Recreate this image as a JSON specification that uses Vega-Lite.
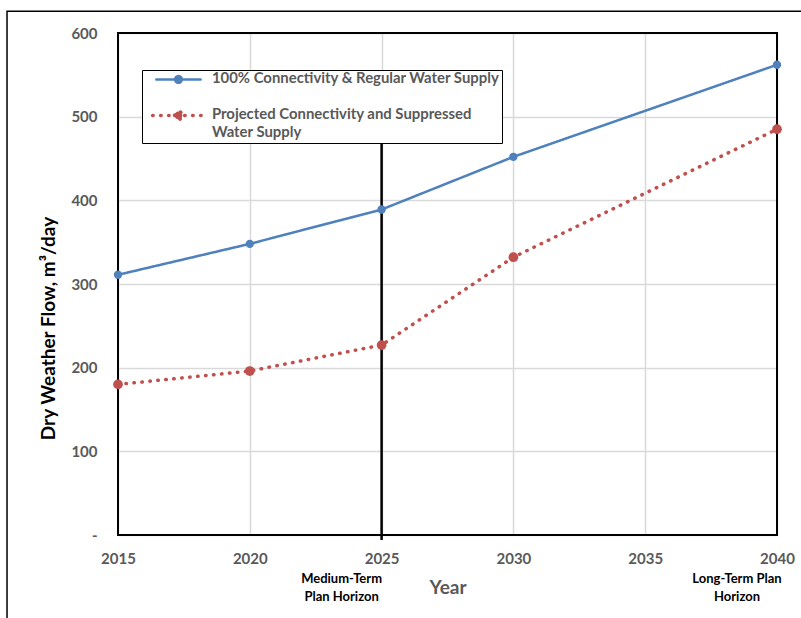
{
  "$schema": "https://vega.github.io/schema/vega-lite/v6.json",
  "width": 659,
  "height": 502,
  "autosize": "none",
  "padding": {"left": 118, "top": 33, "right": 24, "bottom": 83},
  "background": "white",
  "config": {"font": "Lato", "view": {"stroke": null}},
  "datasets": {
    "flow": [
      {"year": 2015, "series": "100% Connectivity & Regular Water Supply", "flow": 311},
      {"year": 2020, "series": "100% Connectivity & Regular Water Supply", "flow": 348},
      {"year": 2025, "series": "100% Connectivity & Regular Water Supply", "flow": 389},
      {"year": 2030, "series": "100% Connectivity & Regular Water Supply", "flow": 452},
      {"year": 2040, "series": "100% Connectivity & Regular Water Supply", "flow": 562},
      {"year": 2015, "series": "Projected Connectivity and Suppressed Water Supply", "flow": 180},
      {"year": 2020, "series": "Projected Connectivity and Suppressed Water Supply", "flow": 196},
      {"year": 2025, "series": "Projected Connectivity and Suppressed Water Supply", "flow": 227},
      {"year": 2030, "series": "Projected Connectivity and Suppressed Water Supply", "flow": 332},
      {"year": 2040, "series": "Projected Connectivity and Suppressed Water Supply", "flow": 485}
    ],
    "notes": [
      {"year": 2025, "note": ["Medium-Term", "Plan Horizon"]},
      {"year": 2040, "note": ["Long-Term Plan", "Horizon"]}
    ],
    "one": [{}]
  },
  "layer": [
    {
      "data": {"name": "one"},
      "mark": {"type": "rect", "fill": null, "stroke": "black", "strokeWidth": 1.5},
      "encoding": {
        "x": {"datum": 2010.79, "type": "quantitative"},
        "x2": {"datum": 2050},
        "y": {"datum": 626, "type": "quantitative"},
        "y2": {"datum": -300}
      }
    },
    {
      "data": {"name": "one"},
      "mark": {"type": "rect", "fill": null, "stroke": "black", "strokeWidth": 2},
      "encoding": {
        "x": {
          "datum": 2015, "type": "quantitative",
          "scale": {"domain": [2015, 2040], "nice": false, "zero": false},
          "axis": {
            "values": [2015, 2020, 2025, 2030, 2035, 2040],
            "format": "d",
            "grid": true, "gridColor": "#d9d9d9", "gridWidth": 1.5,
            "domain": false, "ticks": false,
            "labelFlush": false,
            "labelFont": "Lato", "labelFontSize": 15, "labelFontWeight": "bold", "labelColor": "#595959",
            "labelPadding": 16,
            "title": "Year", "titleFont": "Lato", "titleFontSize": 19, "titleFontWeight": "bold", "titleColor": "#595959",
            "titlePadding": 12
          }
        },
        "x2": {"datum": 2040},
        "y": {
          "datum": 0, "type": "quantitative",
          "scale": {"domain": [0, 600], "nice": false},
          "axis": {
            "values": [0, 100, 200, 300, 400, 500, 600],
            "labelExpr": "datum.value == 0 ? '-' : datum.label",
            "grid": true, "gridColor": "#d9d9d9", "gridWidth": 1.5,
            "domain": false, "ticks": false,
            "labelFont": "Lato", "labelFontSize": 15, "labelFontWeight": "bold", "labelColor": "#595959",
            "labelPadding": 21,
            "title": "Dry Weather Flow, m³/day", "titleFont": "Lato", "titleFontSize": 19, "titleFontWeight": "bold", "titleColor": "black",
            "titlePadding": 12,
            "titleY": 295
          }
        },
        "y2": {"datum": 600}
      }
    },
    {
      "data": {"name": "one"},
      "mark": {"type": "rule", "color": "black", "strokeWidth": 2.5},
      "encoding": {
        "x": {"datum": 2025, "type": "quantitative"},
        "y": {"datum": 469, "type": "quantitative"},
        "y2": {"datum": -6}
      }
    },
    {
      "data": {"name": "flow"},
      "mark": {"type": "line", "strokeCap": "round"},
      "encoding": {
        "x": {"field": "year", "type": "quantitative"},
        "y": {"field": "flow", "type": "quantitative"},
        "color": {
          "field": "series", "type": "nominal",
          "scale": {
            "domain": ["100% Connectivity & Regular Water Supply", "Projected Connectivity and Suppressed Water Supply"],
            "range": ["#4F81BD", "#C0504D"]
          },
          "legend": {
            "orient": "none", "legendX": 24, "legendY": 37,
            "zindex": 2,
            "title": null,
            "padding": 2,
            "strokeColor": "black", "fillColor": "white",
            "symbolType": "M-5.3,0L5.3,0M-0.8,0A0.8,0.8,0,1,1,0.8,0A0.8,0.8,0,1,1,-0.8,0Z",
            "symbolSize": 100,
            "symbolOffset": 27,
            "symbolStrokeWidth": 2.5,
            "labelOffset": 26,
            "labelFont": "Lato", "labelFontSize": 14.9, "labelFontWeight": "bold", "labelColor": "#595959",
            "labelLimit": 400,
            "labelBaseline": "top",
            "labelExpr": "datum.label == 'Projected Connectivity and Suppressed Water Supply' ? ['Projected Connectivity and Suppressed', 'Water Supply'] : datum.label",
            "rowPadding": 16,
            "encode": {
              "symbols": {"update": {
                "fill": {"scale": "color", "field": "value"},
                "stroke": {"scale": "color", "field": "value"},
                "strokeWidth": {"signal": "datum.value == '100% Connectivity & Regular Water Supply' ? 2.5 : 3.5"},
                "strokeDash": {"signal": "datum.value == '100% Connectivity & Regular Water Supply' ? [1, 0] : [0.5, 7.5]"},
                "strokeCap": {"value": "round"}
              }},
              "labels": {"update": {"lineHeight": {"value": 18}, "dy": {"value": -8}}}
            }
          }
        },
        "strokeWidth": {
          "field": "series", "type": "nominal",
          "scale": {"domain": ["100% Connectivity & Regular Water Supply", "Projected Connectivity and Suppressed Water Supply"], "range": [2.5, 3.5]},
          "legend": null
        },
        "strokeDash": {
          "field": "series", "type": "nominal",
          "scale": {"domain": ["100% Connectivity & Regular Water Supply", "Projected Connectivity and Suppressed Water Supply"], "range": [[1, 0], [0.5, 7.5]]},
          "legend": null
        }
      }
    },
    {
      "data": {"name": "flow"},
      "mark": {"type": "point", "filled": true, "opacity": 1},
      "encoding": {
        "x": {"field": "year", "type": "quantitative"},
        "y": {"field": "flow", "type": "quantitative"},
        "color": {"field": "series", "type": "nominal"},
        "size": {
          "field": "series", "type": "nominal",
          "scale": {"domain": ["100% Connectivity & Regular Water Supply", "Projected Connectivity and Suppressed Water Supply"], "range": [70, 95]},
          "legend": null
        }
      }
    },
    {
      "data": {"name": "notes"},
      "mark": {"type": "text", "font": "Lato", "fontSize": 13, "fontWeight": "bold", "color": "black", "align": "center", "baseline": "top", "lineHeight": 18, "dx": -40},
      "encoding": {
        "x": {"field": "year", "type": "quantitative"},
        "y": {"datum": -45, "type": "quantitative"},
        "text": {"field": "note"}
      }
    }
  ]
}
